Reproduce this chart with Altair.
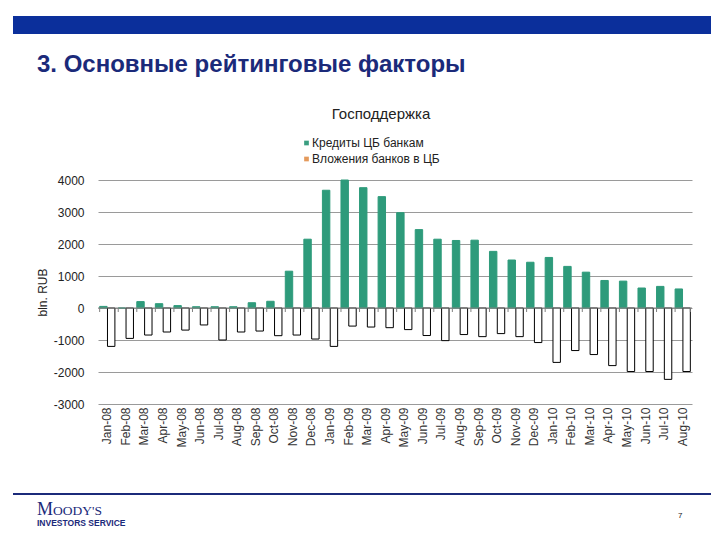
import altair as alt
import pandas as pd

months = ["Jan-08", "Feb-08", "Mar-08", "Apr-08", "May-08", "Jun-08", "Jul-08", "Aug-08",
          "Sep-08", "Oct-08", "Nov-08", "Dec-08", "Jan-09", "Feb-09", "Mar-09", "Apr-09",
          "May-09", "Jun-09", "Jul-09", "Aug-09", "Sep-09", "Oct-09", "Nov-09", "Dec-09",
          "Jan-10", "Feb-10", "Mar-10", "Apr-10", "May-10", "Jun-10", "Jul-10", "Aug-10"]
credits = [50, 0, 200, 135, 75, 40, 40, 40, 165, 210, 1150, 2150,
           3680, 4000, 3760, 3480, 2980, 2450, 2150, 2110, 2120, 1770, 1500, 1430,
           1580, 1300, 1120, 860, 840, 625, 675, 595]
deposits = [-1200, -950, -845, -750, -690, -530, -1000, -750, -720, -865, -845, -970,
            -1200, -565, -595, -615, -675, -860, -1020, -830, -895, -800, -895, -1080,
            -1700, -1330, -1455, -1800, -1985, -1985, -2230, -1985]
series_names = ["Кредиты ЦБ банкам", "Вложения банков в ЦБ"]
bar_fills = ["#2E9B7B", "#FFFFFF"]
bar_strokes = ["#2E9B7B", "#000000"]
legend_colors = ["#3A9E80", "#E49A5C"]
y_ticks = [-3000, -2000, -1000, 0, 1000, 2000, 3000, 4000]
slide_title = "3. Основные рейтинговые факторы"
chart_title = "Господдержка"
y_title = "bln. RUB"
logo_initial = "M"
logo_rest = "OODY'S"
logo_bottom = "INVESTORS SERVICE"
page_number = "7"

rows = []
for m, c, d in zip(months, credits, deposits):
    rows.append({"month": m, "series": series_names[0], "value": c})
    rows.append({"month": m, "series": series_names[1], "value": d})
df = pd.DataFrame(rows)

W, H = 594, 224
FONT = "Liberation Sans"
NAVY = "#1B2A7A"

x_axis = alt.Axis(title=None, labelAngle=270, labelAlign="right", labelBaseline="middle",
                  labelPadding=3, labelFontSize=12, labelColor="#333333", labelFont=FONT,
                  ticks=False, domain=False, grid=False)
x_scale = alt.Scale(paddingInner=0.18, paddingOuter=0.09)
y_scale = alt.Scale(domain=[-3000, 4000], nice=False, zero=False)
y_axis = alt.Axis(values=y_ticks, labelExpr="datum.value < 0 ? '-' + abs(datum.value) : '' + datum.value",
                  labelOverlap=False, title=y_title, grid=True,
                  gridColor="#9a9a9a", domain=False, ticks=False, labelPadding=14,
                  labelFontSize=12, labelFont=FONT, labelColor="#222222", titleFont=FONT,
                  titleFontSize=12, titleFontWeight="normal", titleColor="#222222",
                  titleAngle=270, titleX=-56, titleY=112, titleAlign="center",
                  titleBaseline="middle")

bars = alt.Chart(df).mark_bar(strokeWidth=1).encode(
    x=alt.X("month:N", sort=months, scale=x_scale, axis=x_axis),
    xOffset=alt.XOffset("series:N", sort=series_names, scale=alt.Scale(paddingInner=0.05)),
    y=alt.Y("value:Q", scale=y_scale, axis=y_axis),
    fill=alt.Fill("series:N", scale=alt.Scale(domain=series_names, range=bar_fills), legend=None),
    stroke=alt.Stroke("series:N", scale=alt.Scale(domain=series_names, range=bar_strokes), legend=None),
)

zero_line = alt.Chart(pd.DataFrame({"v": [0]})).mark_rule(color="#808080", strokeWidth=1).encode(
    y=alt.Y("v:Q", scale=y_scale, axis=y_axis))

ticks_df = pd.DataFrame({"month": months})
tick_marks = alt.Chart(ticks_df).mark_rule(color="#808080", strokeWidth=1).encode(
    x=alt.X("month:N", sort=months, scale=x_scale, axis=x_axis, bandPosition=0),
    y=alt.YDatum(0, scale=y_scale, axis=y_axis), y2=alt.datum(-125))
end_tick = alt.Chart(ticks_df.tail(1)).mark_rule(color="#808080", strokeWidth=1).encode(
    x=alt.X("month:N", sort=months, scale=x_scale, axis=x_axis, bandPosition=1),
    y=alt.YDatum(0, scale=y_scale, axis=y_axis), y2=alt.datum(-125))

one = pd.DataFrame({"k": [0]})

top_bar = alt.Chart(one).mark_rect(color="#0B2F9B").encode(
    x=alt.value(-85), x2=alt.value(613), y=alt.value(-164), y2=alt.value(-146))
bottom_line = alt.Chart(one).mark_rect(color=NAVY).encode(
    x=alt.value(-85), x2=alt.value(613), y=alt.value(313), y2=alt.value(315))

def text_layer(txt, x, y, size, color, weight="normal", font=FONT, align="left"):
    return alt.Chart(pd.DataFrame({"t": [txt]})).mark_text(
        align=align, baseline="alphabetic", fontSize=size, fontWeight=weight,
        font=font, color=color).encode(text="t:N", x=alt.value(x), y=alt.value(y))

title_l = text_layer(slide_title, -61, -108, 24, NAVY, weight="bold")
chart_title_l = text_layer(chart_title, 283, -61, 15, "#222222", align="center")
logo1 = text_layer(logo_initial, -61, 335, 18, NAVY, font="Liberation Serif")
logo1b = text_layer(logo_rest, -45, 335, 13.5, NAVY, font="Liberation Serif")
logo2 = text_layer(logo_bottom, -61, 346, 8.5, NAVY, weight="bold")
page_l = text_layer(page_number, 580, 338, 8, "#222222")

legend_layers = []
for i, (name, col) in enumerate(zip(series_names, legend_colors)):
    yy = -37 + 16 * i
    legend_layers.append(
        alt.Chart(pd.DataFrame({"t": [name]})).mark_square(size=22, color=col, opacity=1).encode(
            x=alt.value(208.5), y=alt.value(yy)))
    legend_layers.append(
        alt.Chart(pd.DataFrame({"t": [name]})).mark_text(
            align="left", baseline="middle", fontSize=12, font=FONT, color="#222222").encode(
            text="t:N", x=alt.value(214), y=alt.value(yy)))

chart = alt.layer(
    bars, zero_line, tick_marks, end_tick, top_bar, bottom_line, title_l, chart_title_l,
    logo1, logo1b, logo2, page_l, *legend_layers
).properties(
    width=W, height=H,
    background="white",
    autosize=alt.AutoSizeParams(type="none"),
    padding={"left": 90, "top": 172, "right": 20, "bottom": 130},
).configure_view(stroke=None).configure_axis(domain=False, ticks=False)

chart.save("out.html", embed_options={"renderer": "svg", "actions": False})
